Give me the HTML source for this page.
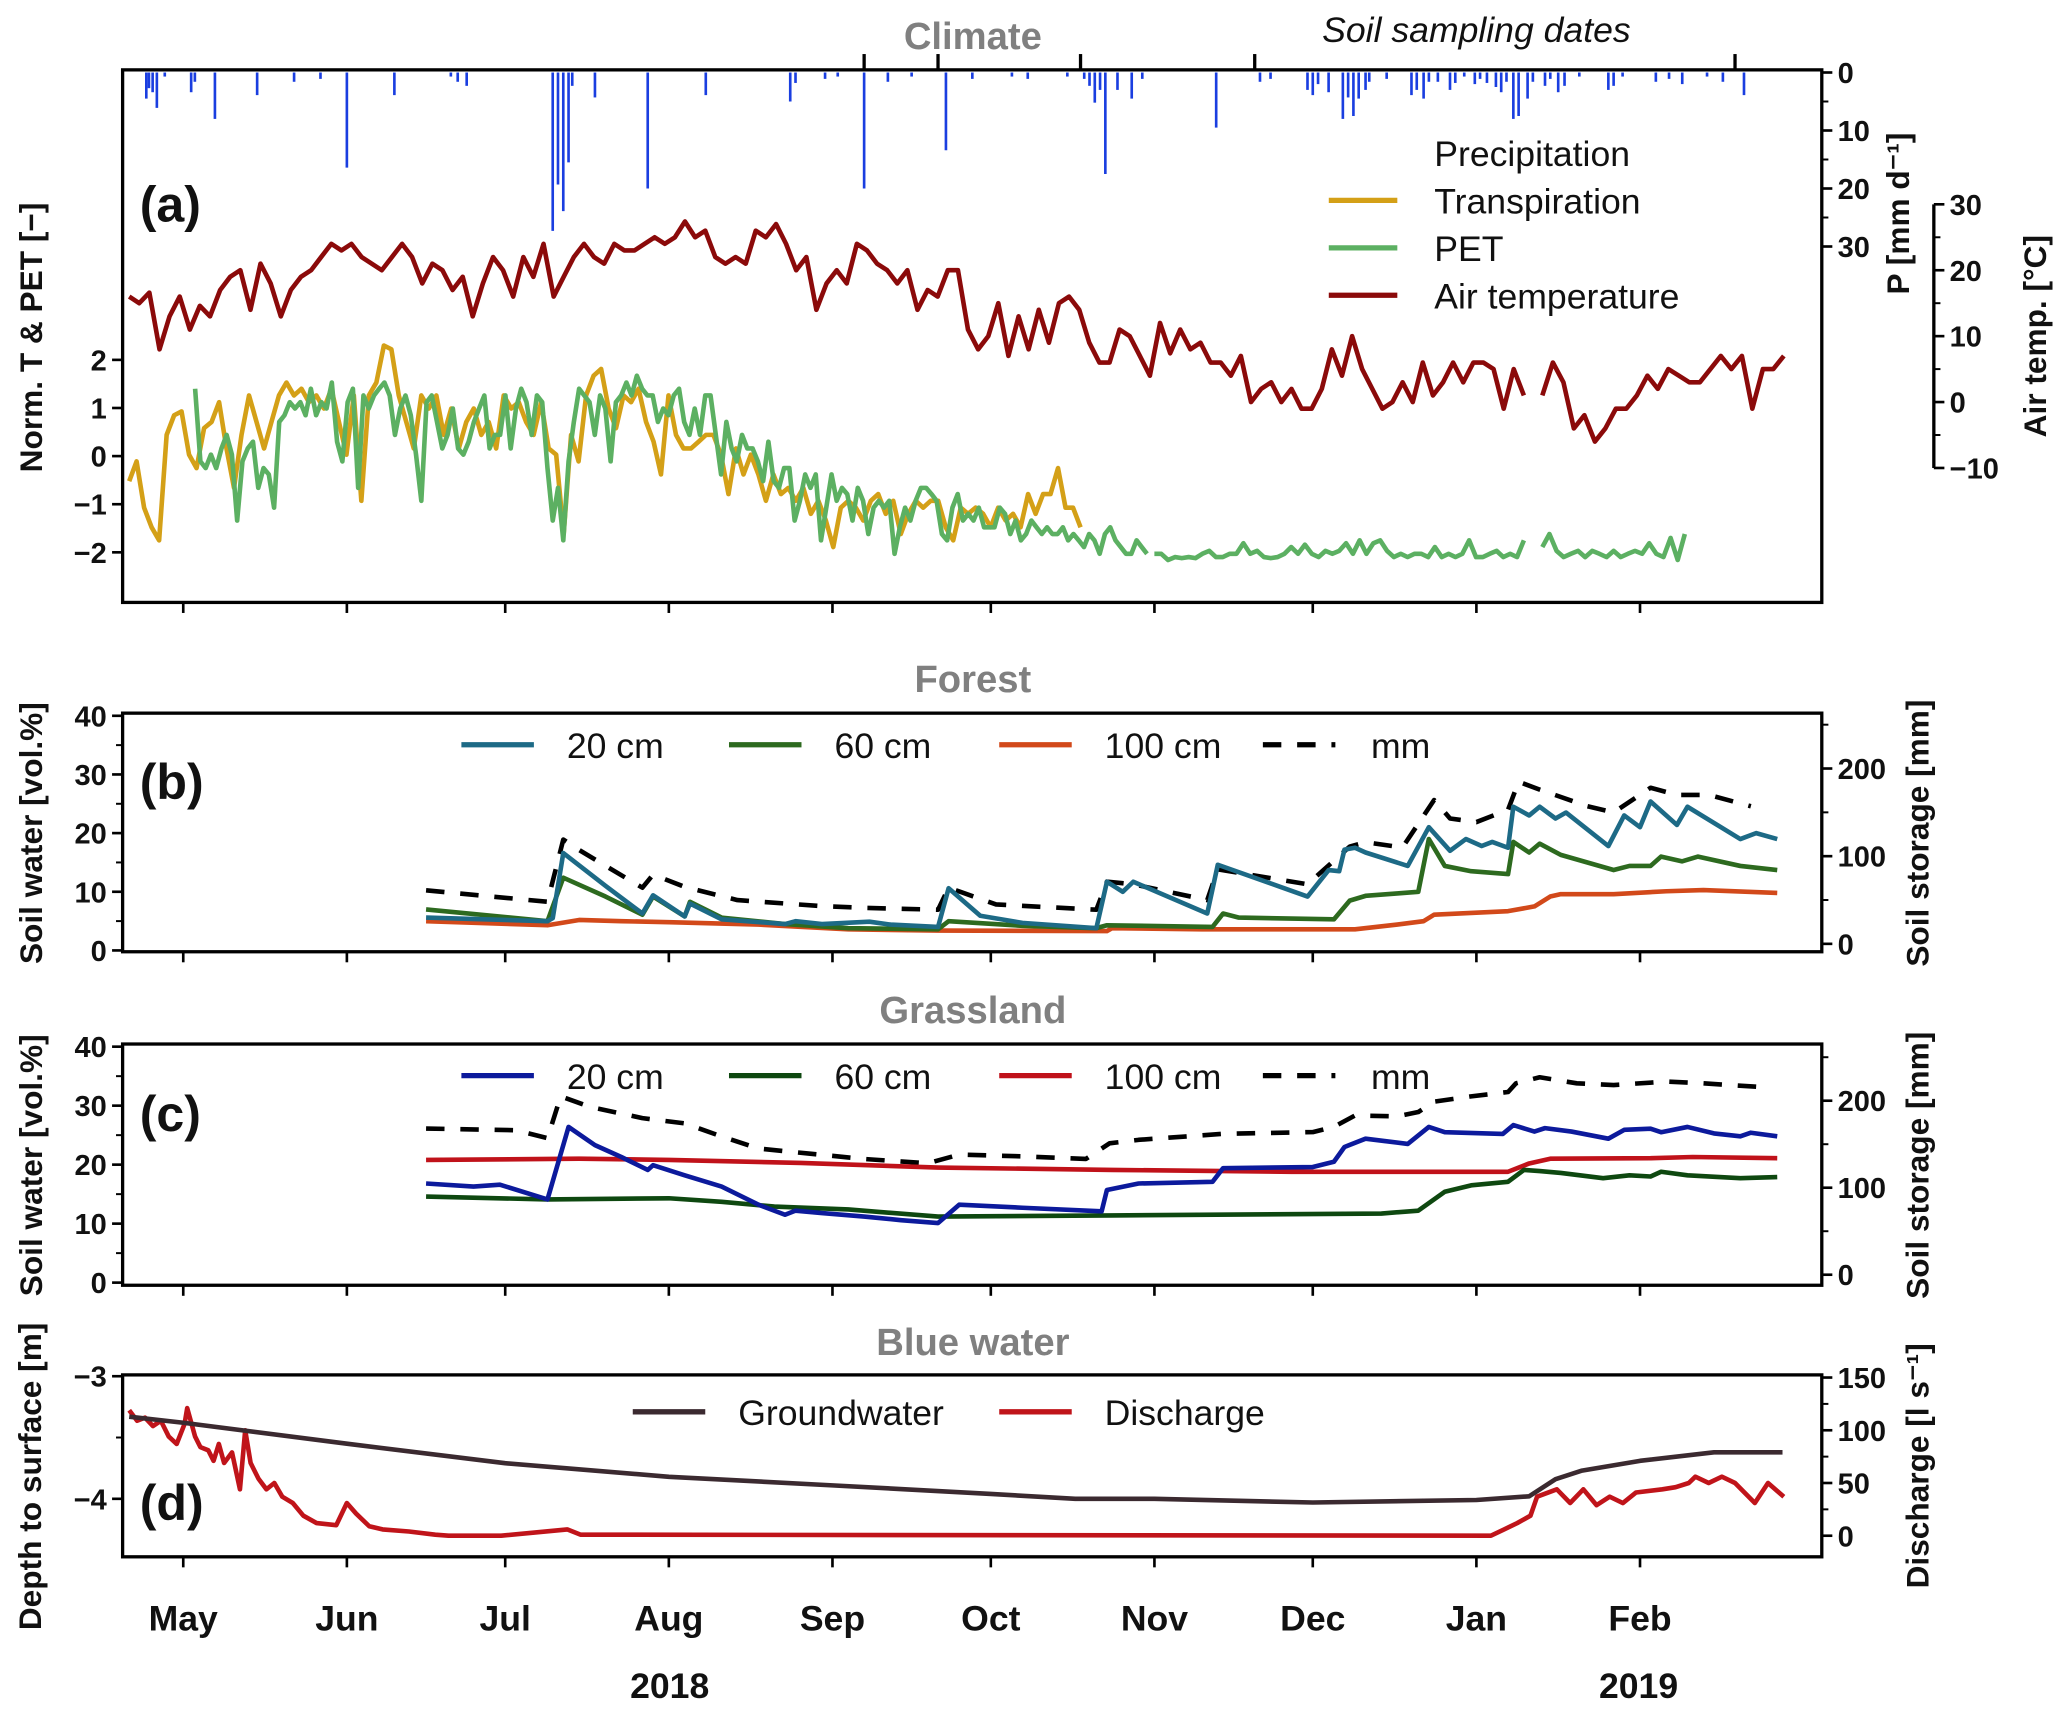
<!DOCTYPE html>
<html><head><meta charset="utf-8"><title>Climate and soil water chart</title>
<style>
html,body{margin:0;padding:0;background:#fff;}
svg{display:block;font-family:"Liberation Sans",sans-serif;}
.tk{font-size:22px;font-weight:bold;fill:#111;}
.lg{font-size:27px;fill:#111;}
.ttl{font-size:29px;font-weight:bold;fill:#808080;}
.ax{font-size:24px;font-weight:bold;fill:#111;}
.pl{font-size:38px;font-weight:bold;fill:#111;}
</style></head>
<body>
<svg id="chart" width="2067" height="1715" viewBox="0 0 1568 1301" xmlns="http://www.w3.org/2000/svg">
<g id="g"></g>
</svg>
<script>
// ---------- data ----------
const months = ["May","Jun","Jul","Aug","Sep","Oct","Nov","Dec","Jan","Feb"];
const monthDays = [0,31,61,92,123,153,184,214,245,276];
const samplingDays = [129,143,170,203,294];

const precipDays = [-7,-6.5,-5.8,-5,-3.5,1.5,2.2,6,14,21,26,31,40,50.7,52,53.7,70,71,72,73,73.7,78,88,99,115,116,121.6,124,129,133.5,138,144.5,149.5,157,160,167.5,170.7,171.7,172.7,173.7,174.7,177,179.7,181.7,195.7,204,206,213,214,215,217,219.7,220.7,221.7,222.7,224,224.7,228,232.7,233.7,235,236,237.7,240,241,242.7,244.7,245.7,247,248.7,249.7,250.7,252,253,254.7,255.7,258,259,260.5,261.7,264.5,270,271,272.7,279,281.5,284,288.7,291.7,295.7];
const precipMm = [4.5,2.7,3.4,6.1,0.7,3.4,1.6,8,3.9,1.6,1.1,16.4,3.9,0.7,1.6,2.3,27.3,19.3,23.9,15.5,2.3,4.3,20,3.9,5,1.8,1.1,0.7,20,1.6,0.7,13.4,1.1,0.7,1.1,0.7,1.1,2.3,5.2,3,17.5,3,4.5,1.1,9.5,1.6,1.1,3,3.9,2,3.4,8,4.3,7.5,4.5,3,1.6,1.1,3.9,3,4.5,1.6,1.6,3,1.8,0.7,2,1.1,1.8,2.5,3.4,1.6,8,7.5,4.5,1.6,2.3,1.1,3.4,2.3,0.7,3,2.3,0.7,1.6,1.1,2,0.7,1.6,3.9];

const tempARange = [-10.25, 254];
const tempA = [16,15,16.6,8,13,16,11,14.6,13,17,19,20,14,21,18,13,17,19,20,22,24,23,24,22,21,20,22,24,22,18,21,20,17,19,13,18,22,20,16,22,19,24,16,19,22,24,22,21,24,23,23,24,25,24,25,27.4,25,26,22,21,22,21,26,25,27,24,20,22,14,18,20,18,24,23,21,20,18,20,14,17,16,20,20,11,8,10,15,7,13,8,14,9,15,16,14,9,6,6,11,10,7,4,12,7.4,11,8,9,6,6,4,7,0,2,3,0,2,-1,-1,2,8,4,10,5,2,-1,0,3,0,6,1,3,6,3,6,6,5,-1,5,1];
const tempBRange = [257.5, 303.25];
const tempB = [1,6,3,-4,-2,-6,-4,-1,-1,1,4,2,5,4,3,3,5,7,5,7,-1,5,5,7];

const transpRange = [-10.25, 170];
const transp = [-0.52,-0.11,-1.07,-1.48,-1.75,0.44,0.85,0.93,0.03,-0.25,0.58,0.71,1.12,0.16,-0.66,0.44,1.26,0.71,0.16,0.71,1.26,1.53,1.26,1.4,1.12,1.26,0.99,1.4,0.71,0.03,1.26,-0.93,1.26,1.53,2.3,2.22,1.26,0.71,0.16,1.26,0.99,1.26,0.44,0.99,0.16,0.71,0.99,0.44,0.71,0.16,1.26,0.99,1.12,0.71,0.44,1.12,0.16,0.03,-1.62,0.44,-0.11,1.26,1.67,1.81,0.99,0.58,1.26,1.12,1.4,0.71,0.3,-0.38,1.26,0.44,0.16,0.16,0.3,0.44,0.44,0.03,-0.79,0.16,-0.38,0.03,-0.38,-0.93,-0.38,-0.79,-0.66,-0.93,-0.66,-1.2,-0.93,-1.34,-1.89,-1.07,-0.93,-1.07,-1.34,-0.93,-0.79,-1.2,-0.93,-1.62,-1.2,-0.93,-1.07,-0.93,-0.93,-1.48,-1.75,-1.07,-1.2,-1.07,-1.2,-1.48,-1.07,-1.34,-1.2,-1.48,-0.79,-1.2,-0.79,-0.79,-0.25,-1.07,-1.07,-1.48];

const petARange = [2.25, 182.6];
const petA = [1.4,-0.11,-0.25,0.03,-0.25,0.16,0.44,0.03,-1.34,-0.11,0.16,0.3,-0.66,-0.25,-0.38,-1.07,0.71,0.85,1.12,0.99,1.12,0.85,1.4,0.85,1.12,0.99,1.53,0.3,-0.11,1.12,1.4,-0.66,1.26,0.99,1.26,1.4,1.53,1.26,0.44,0.99,1.26,0.85,0.03,-0.93,1.12,1.26,0.71,0.16,0.44,0.99,0.16,0.03,0.3,0.71,0.99,1.26,0.16,0.44,0.44,1.26,0.16,0.99,1.4,1.12,0.44,1.26,1.12,-0.25,-1.34,-0.66,-1.75,-0.11,0.71,1.4,1.26,1.12,0.44,1.26,0.99,-0.11,1.12,1.26,1.53,1.26,1.67,1.4,1.26,1.26,0.71,0.99,0.85,1.26,1.4,0.71,0.44,0.99,0.44,1.26,1.26,0.44,-0.38,0.71,0.16,-0.11,0.44,0.16,0.16,-0.11,-0.52,0.3,-0.52,-0.66,-0.25,-0.25,-1.34,-0.93,-0.38,-0.66,-0.38,-1.75,-1.07,-0.38,-0.93,-0.66,-0.79,-1.34,-0.66,-0.93,-1.62,-1.07,-0.93,-1.07,-0.93,-2.03,-1.48,-1.07,-1.34,-0.93,-0.66,-0.66,-0.79,-0.93,-1.62,-1.75,-1.07,-0.79,-1.34,-1.2,-1.34,-1.07,-1.48,-1.48,-1.48,-1.07,-1.2,-1.62,-1.34,-1.75,-1.62,-1.34,-1.48,-1.62,-1.48,-1.62,-1.62,-1.48,-1.75,-1.62,-1.75,-1.89,-1.62,-1.75,-2.03,-1.62,-1.48,-1.75,-1.89,-2.03,-2.03,-1.75,-1.89,-2.03];
const petBRange = [184, 254];
const petB = [-2.03,-2.03,-2.16,-2.1,-2.12,-2.1,-2.12,-2.03,-1.97,-2.1,-2.1,-2.03,-2.03,-1.81,-2.03,-1.97,-2.1,-2.12,-2.1,-2.03,-1.89,-2.03,-1.84,-2.03,-2.1,-1.97,-2.03,-1.97,-1.81,-2.03,-1.75,-2.03,-1.81,-1.75,-1.97,-2.1,-2.03,-2.1,-2.03,-2.03,-2.1,-1.89,-2.1,-2.03,-2.1,-2.03,-1.75,-2.1,-2.1,-2.03,-1.97,-2.1,-2.03,-2.1,-1.75];
const petCRange = [257.5, 284.5];
const petC = [-1.89,-1.62,-1.97,-2.1,-2.03,-1.97,-2.1,-1.97,-2.03,-2.1,-1.97,-2.1,-2.03,-1.97,-2.03,-1.81,-2.03,-2.1,-1.7,-2.16,-1.62];

const f20Days = [46,69,70,72,80,87,89,95,96,102,114,116,121,130,134,143,145,151,159,173,175,178,180,194,196,213,217,219,220,222,224,232,236,240,243,246,248,251,252,255,257,260,262,270,273,276,278,283,285,295,298,302];
const f20 = [5.6,5.0,5.5,16.6,11,6.3,9.4,5.8,8,5.3,4.5,5,4.5,4.9,4.4,4.0,10.6,5.9,4.7,3.8,11.7,10,11.7,6.3,14.6,9.2,13.7,13.5,17.2,17.5,16.7,14.4,21,17,19,17.8,18.5,17.5,24.5,23,24.5,22.5,23.5,17.8,23,21,25.4,21.4,24.5,19,20,19];
const f60Days = [46,69,72,80,87,89,95,96,102,114,126,143,145,159,173,175,195,197,200,218,221,224,230,234,236,239,244,251,252,255,257,261,271,274,278,280,284,287,295,302];
const f60 = [7.0,5.0,12.4,9.2,6.1,9.2,5.8,8.3,5.6,4.5,3.8,3.6,5.0,4.2,3.8,4.3,4.0,6.3,5.6,5.3,8.5,9.3,9.7,10,19,14.4,13.5,13,18.5,16.7,18.2,16.3,13.7,14.4,14.4,16,15.2,16,14.4,13.7];
const f100Days = [46,69,75,83,92,109,126,143,175,176,193,222,230,235,237,251,256,259,261,271,281,288,302];
const f100 = [5.0,4.3,5.2,5.0,4.8,4.4,3.6,3.4,3.3,3.8,3.6,3.6,4.4,5.0,6.1,6.7,7.5,9.2,9.6,9.6,10.1,10.3,9.8];
const fmmDays = [46,69,72,75,80,87,89,95,105,114,121,129,143,145,154,173,175,180,194,196,213,221,224,231,237,240,245,251,253,257,266,271,278,283,289,297];
const fmm = [61,48,119,107,89,64,79,65,50,46,43,41,39,64,45,39,71,68,50,85,68,111,116,110,164,143,139,153,185,176,157,150,178,170,170,157];

const g20Days = [46,55,60,69,73,78,83,88,89,95,102,109,114,116,121,129,136,143,147,159,174,175,181,195,197,214,218,220,224,232,236,239,250,252,256,258,263,270,273,278,280,285,290,295,297,302];
const g20 = [16.8,16.3,16.6,14.1,26.4,23.3,21.3,19.1,19.9,18.2,16.3,13.2,11.5,12.2,11.8,11.2,10.6,10.1,13.2,12.7,12.1,15.7,16.8,17.1,19.4,19.6,20.5,23,24.4,23.5,26.4,25.5,25.2,26.7,25.6,26.2,25.6,24.4,25.9,26.1,25.5,26.4,25.3,24.8,25.4,24.8];
const g60Days = [46,69,92,102,112,126,143,176,227,234,239,244,251,254,257,261,269,274,278,280,285,295,302];
const g60 = [14.6,14.1,14.3,13.7,12.9,12.4,11.2,11.4,11.7,12.2,15.4,16.5,17.1,19.1,18.9,18.6,17.7,18.2,18.0,18.8,18.2,17.7,17.9];
const g100Days = [46,75,92,117,143,176,210,251,255,259,278,286,302];
const g100 = [20.8,21.0,20.8,20.3,19.5,19.1,18.8,18.8,20.2,21.0,21.1,21.3,21.1];
const gmmDays = [46,63,69,71.5,77,87,95,102,109,119,129,141,147,159,171,175.5,181,197,214,218,222,230,234,237,244,251,252.5,257,264,271,281,288,298];
const gmm = [168,166,157,205,193,180,174,159,145,139,133,128,138,136,133,151,155,162,164,170,183,182,187,199,205,210,220,227,220,218,222,220,216];

const gwDays = [-10.25,0,31,61,92,123,153,169,184,214,245,255,260,265,276,290,303];
const gw = [-3.33,-3.38,-3.55,-3.71,-3.82,-3.89,-3.96,-4.0,-4.0,-4.03,-4.01,-3.98,-3.84,-3.77,-3.69,-3.62,-3.62];
const qDays = [-10.25,-8.75,-7.25,-5.75,-4.25,-2.75,-1.25,0.25,0.75,2.25,3.25,4.75,5.75,6.75,7.75,9.25,10.75,11.75,12.75,14.25,15.75,17.25,18.75,20.75,22.75,25.25,29,31,32.75,35.25,37.75,42.75,47.75,50.25,60.25,72.75,75.25,247.75,250.25,252.75,255.25,256.5,260.25,262.75,265.25,267.75,270.25,272.75,275.25,280.25,282.75,285.25,286.5,289,291.5,294,297.75,300.25,303.25];
const q = [119,109,112,104,109,94,87,106,121,94,84,81,71,87,69,79,44,100,69,54,44,50,37,31,19,12,10,31,21,9,6,4,1,0,0,6,1,0,6,12,19,37,44,31,44,29,37,31,41,44,46,50,56,50,56,50,31,50,37];

const normTicks = [2,1,0,-1,-2];
const pTicks = [0,10,20,30];
const tTicks = [30,20,10,0,-10];
const swTicks = [0,10,20,30,40];
const stTicks = [0,100,200];
const gwTicks = [-3,-4];
const qTicks = [0,50,100,150];

// ---------- scales ----------
const X0 = 93, X1 = 1382;
const LW = 3.5;
const xs = d => 139 + 4.004 * d;
const yNorm = v => 346 - 36.5 * v;
const yP = v => 55 + 4.4 * v;
const yT = v => 305 - 5 * v;
const ySWb = v => 721 - 4.45 * v;
const ySTb = v => 716 - 0.665 * v;
const ySWc = v => 973 - 4.475 * v;
const ySTc = v => 967 - 0.66 * v;
const yGW = v => 1044 - 93 * (v + 3);
const yQ = v => 1165 - 0.8 * v;

const NS = "http://www.w3.org/2000/svg";
const G = document.getElementById('g');
function el(tag, attrs, parent) {
  const e = document.createElementNS(NS, tag);
  for (const k in attrs) e.setAttribute(k, attrs[k]);
  (parent || G).appendChild(e);
  return e;
}
function txt(s, x, y, cls, anchor, name, extra) {
  const t = el('text', Object.assign({x: x, y: y, 'class': cls, 'text-anchor': anchor || 'start'}, extra || {}));
  t.textContent = s;
  
  
  return t;
}
function vtxt(s, x, y, cls, name) {
  const t = el('text', {x: 0, y: 0, 'class': cls, 'text-anchor': 'middle', transform: `translate(${x},${y}) rotate(-90)`});
  t.textContent = s;
  
  
  return t;
}
function seg(x1, y1, x2, y2, w, name, col) {
  const l = el('line', {x1: x1, y1: y1, x2: x2, y2: y2, stroke: col || '#000', 'stroke-width': w});
  
  
  return l;
}
function spread(range, n) { const a = []; for (let i = 0; i < n; i++) a.push(range[0] + (range[1] - range[0]) * i / (n - 1)); return a; }
function series(days, vals, yf, col, w, name, dash) {
  const pts = days.map((d, i) => xs(d).toFixed(1) + ',' + yf(vals[i]).toFixed(1)).join(' ');
  const p = el('polyline', {points: pts, fill: 'none', stroke: col, 'stroke-width': w, 'stroke-linejoin': 'round'});
  if (dash) p.setAttribute('stroke-dasharray', dash);
  
  
  return p;
}
function box(top, bottom, name) {
  const r = el('rect', {x: X0, y: top, width: X1 - X0, height: bottom - top, fill: 'none', stroke: '#000', 'stroke-width': 2.5});
  
  
  monthDays.forEach(d => seg(xs(d), bottom, xs(d), bottom + 8, 2, 'x-tick'));
}
function leftTicks(ticks, yf, minor, name) {
  ticks.forEach(v => { seg(X0 - 8, yf(v), X0, yf(v), 2, name + '-tick'); txt(String(v).replace('-', '\u2212'), X0 - 12, yf(v) + 8, 'tk', 'end', name + '-label'); });
  (minor || []).forEach(v => seg(X0 - 5, yf(v), X0, yf(v), 1.5, name + '-minor-tick'));
}
function rightTicks(ticks, yf, xAx, minor, name) {
  ticks.forEach(v => { seg(xAx, yf(v), xAx + 8, yf(v), 2, name + '-tick'); txt(String(v).replace('-', '\u2212'), xAx + 12, yf(v) + 8, 'tk', 'start', name + '-label'); });
  (minor || []).forEach(v => seg(xAx, yf(v), xAx + 5, yf(v), 1.5, name + '-minor-tick'));
}

// ---------- Panel a ----------
box(53, 457, 'panel-a-frame');
txt('Climate', 738, 37, 'ttl', 'middle', 'panel-a-title');
txt('Soil sampling dates', 1120, 32, 'lg', 'middle', 'sampling-dates-label', {'font-style': 'italic', 'font-size': '24'});
samplingDays.forEach(d => seg(xs(d), 41, xs(d), 53, 2.5, 'sampling-date-tick'));
txt('(a)', 106, 168, 'pl', 'start', 'panel-a-label');
precipDays.forEach((d, i) => {
  const b = el('line', {x1: xs(d), y1: 55, x2: xs(d), y2: yP(precipMm[i]), stroke: '#1a3ee0', 'stroke-width': 2});
  
  
});
series(spread(tempARange, tempA.length), tempA, yT, '#8b0a0a', LW, 'air-temp-line');
series(spread(tempBRange, tempB.length), tempB, yT, '#8b0a0a', LW, 'air-temp-line');
series(spread(transpRange, transp.length), transp, yNorm, '#d4a017', LW, 'transpiration-line');
series(spread(petARange, petA.length), petA, yNorm, '#5cb062', LW, 'pet-line');
series(spread(petBRange, petB.length), petB, yNorm, '#5cb062', LW, 'pet-line');
series(spread(petCRange, petC.length), petC, yNorm, '#5cb062', LW, 'pet-line');
leftTicks(normTicks, yNorm, [], 'norm-axis');
vtxt('Norm. T & PET [\u2212]', 32, 256, 'ax', 'norm-axis-title');
rightTicks(pTicks, yP, X1, [5, 15, 25], 'precip-axis');
vtxt('P [mm d\u207B\u00B9]', 1448, 162, 'ax', 'precip-axis-title');
seg(1467, yT(30), 1467, yT(-10), 2.5, 'temp-axis-line');
rightTicks(tTicks, yT, 1467, [25, 15, 5, -5], 'temp-axis');
vtxt('Air temp. [\u00B0C]', 1552, 255, 'ax', 'temp-axis-title');
// legend a
txt('Precipitation', 1088, 126, 'lg', 'start', 'legend-precipitation');
seg(1008, 152, 1060, 152, 4, 'legend-transpiration-swatch', '#d4a017');
txt('Transpiration', 1088, 162, 'lg', 'start', 'legend-transpiration');
seg(1008, 188, 1060, 188, 4, 'legend-pet-swatch', '#5cb062');
txt('PET', 1088, 198, 'lg', 'start', 'legend-pet');
seg(1008, 224, 1060, 224, 4, 'legend-air-temp-swatch', '#8b0a0a');
txt('Air temperature', 1088, 234, 'lg', 'start', 'legend-air-temp');

// ---------- Panel b ----------
box(541, 722, 'panel-b-frame');
txt('Forest', 738, 525, 'ttl', 'middle', 'panel-b-title');
txt('(b)', 106, 606, 'pl', 'start', 'panel-b-label');
series(fmmDays, fmm, ySTb, '#000', LW, 'forest-storage-line', '14,12');
series(f100Days, f100, ySWb, '#d2491a', LW, 'forest-100cm-line');
series(f60Days, f60, ySWb, '#2d6a1f', LW, 'forest-60cm-line');
series(f20Days, f20, ySWb, '#1d6a86', LW, 'forest-20cm-line');
leftTicks(swTicks, ySWb, [5, 15, 25, 35], 'forest-sw-axis');
vtxt('Soil water [vol.%]', 32, 632, 'ax', 'forest-sw-axis-title');
rightTicks(stTicks, ySTb, X1, [50, 150, 250].filter(v => ySTb(v) > 541), 'forest-storage-axis');
vtxt('Soil storage [mm]', 1463, 632, 'ax', 'forest-storage-axis-title');
seg(350, 565, 405, 565, 4, 'legend-f20-swatch', '#1d6a86'); txt('20 cm', 430, 575, 'lg', 'start', 'legend-f20');
seg(553, 565, 608, 565, 4, 'legend-f60-swatch', '#2d6a1f'); txt('60 cm', 633, 575, 'lg', 'start', 'legend-f60');
seg(758, 565, 813, 565, 4, 'legend-f100-swatch', '#d2491a'); txt('100 cm', 838, 575, 'lg', 'start', 'legend-f100');
seg(958, 565, 1013, 565, 4, 'legend-fmm-swatch', '#000').setAttribute('stroke-dasharray', '14,12'); txt('mm', 1040, 575, 'lg', 'start', 'legend-fmm');

// ---------- Panel c ----------
box(792, 975, 'panel-c-frame');
txt('Grassland', 738, 776, 'ttl', 'middle', 'panel-c-title');
txt('(c)', 106, 858, 'pl', 'start', 'panel-c-label');
series(gmmDays, gmm, ySTc, '#000', LW, 'grass-storage-line', '14,12');
series(g100Days, g100, ySWc, '#c0121a', LW, 'grass-100cm-line');
series(g60Days, g60, ySWc, '#0e4810', LW, 'grass-60cm-line');
series(g20Days, g20, ySWc, '#0c1a9c', LW, 'grass-20cm-line');
leftTicks(swTicks, ySWc, [5, 15, 25, 35], 'grass-sw-axis');
vtxt('Soil water [vol.%]', 32, 884, 'ax', 'grass-sw-axis-title');
rightTicks(stTicks, ySTc, X1, [50, 150, 250].filter(v => ySTc(v) > 792), 'grass-storage-axis');
vtxt('Soil storage [mm]', 1463, 884, 'ax', 'grass-storage-axis-title');
seg(350, 816, 405, 816, 4, 'legend-g20-swatch', '#0c1a9c'); txt('20 cm', 430, 826, 'lg', 'start', 'legend-g20');
seg(553, 816, 608, 816, 4, 'legend-g60-swatch', '#0e4810'); txt('60 cm', 633, 826, 'lg', 'start', 'legend-g60');
seg(758, 816, 813, 816, 4, 'legend-g100-swatch', '#c0121a'); txt('100 cm', 838, 826, 'lg', 'start', 'legend-g100');
seg(958, 816, 1013, 816, 4, 'legend-gmm-swatch', '#000').setAttribute('stroke-dasharray', '14,12'); txt('mm', 1040, 826, 'lg', 'start', 'legend-gmm');

// ---------- Panel d ----------
box(1043, 1181, 'panel-d-frame');
txt('Blue water', 738, 1028, 'ttl', 'middle', 'panel-d-title');
txt('(d)', 106, 1153, 'pl', 'start', 'panel-d-label');
series(qDays, q, yQ, '#c0141a', LW, 'discharge-line');
series(gwDays, gw, yGW, '#3b2a30', LW, 'groundwater-line');
leftTicks(gwTicks, yGW, [-3.5], 'gw-axis');
vtxt('Depth to surface [m]', 31, 1120, 'ax', 'gw-axis-title').setAttribute('font-size', '20');
rightTicks(qTicks, yQ, X1, [25, 75, 125], 'discharge-axis');
vtxt('Discharge [l s\u207B\u00B9]', 1463, 1112, 'ax', 'discharge-axis-title');
seg(480, 1071, 535, 1071, 4, 'legend-gw-swatch', '#3b2a30'); txt('Groundwater', 560, 1081, 'lg', 'start', 'legend-groundwater');
seg(758, 1071, 813, 1071, 4, 'legend-q-swatch', '#c0141a'); txt('Discharge', 838, 1081, 'lg', 'start', 'legend-discharge');

// ---------- x axis labels ----------
months.forEach((m, i) => txt(m, xs(monthDays[i]), 1237, 'lg', 'middle', 'month-label', {'font-weight': 'bold', 'font-size': '26'}));
txt('2018', 508, 1288, 'lg', 'middle', 'year-2018-label', {'font-weight': 'bold', 'font-size': '36', fill: '#222'});
txt('2019', 1243, 1288, 'lg', 'middle', 'year-2019-label', {'font-weight': 'bold', 'font-size': '36', fill: '#222'});
</script>
</body></html>
